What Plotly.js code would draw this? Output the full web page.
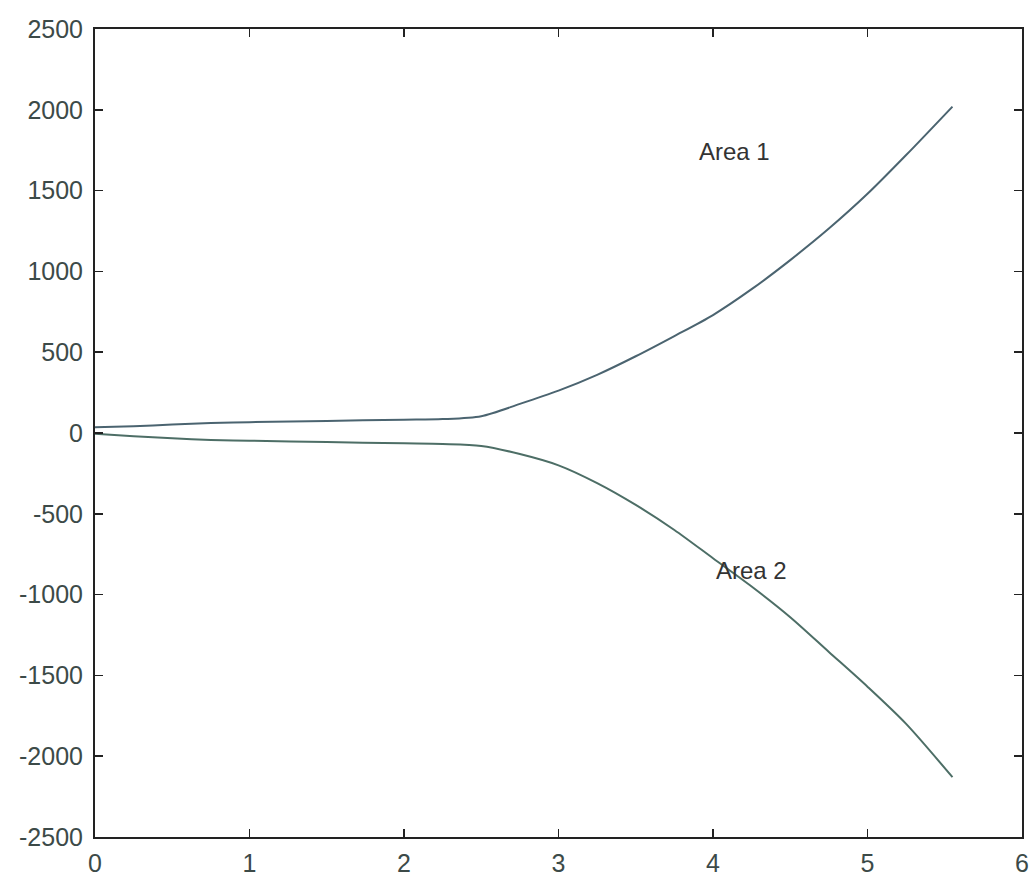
<!DOCTYPE html>
<html>
<head>
<meta charset="utf-8">
<script src="https://cdn.plot.ly/plotly-3.0.1.min.js"></script>
<style>html,body{margin:0;padding:0;background:#fff;}#chart{width:1033px;height:877px;}</style>
</head>
<body>
<div id="chart"></div>
<script>
const xValues = [0, 0.25, 0.5, 0.75, 1, 1.5, 2, 2.25, 2.5, 2.75, 3, 3.25, 3.5, 3.75, 4, 4.25, 4.5, 4.75, 5, 5.25, 5.55];
const area1 = [35, 42, 52, 62, 67, 75, 82, 86, 104, 180, 262, 360, 475, 600, 730, 890, 1070, 1265, 1480, 1720, 2020];
const area2 = [-5, -20, -33, -43, -48, -56, -64, -68, -80, -130, -200, -310, -445, -600, -775, -950, -1140, -1355, -1570, -1800, -2130];
const labels = ["Area 1", "Area 2"];
const labelX = [4.14, 4.25];
const labelY = [1739, -848];
const xTicks = [0, 1, 2, 3, 4, 5, 6];
const yTicks = [2500, 2000, 1500, 1000, 500, 0, -500, -1000, -1500, -2000, -2500];

const traces = [
  {x: xValues, y: area1, mode: 'lines', line: {color: '#4b6470', width: 2, shape: 'spline', smoothing: 0.8}, name: labels[0], hoverinfo: 'skip'},
  {x: xValues, y: area2, mode: 'lines', line: {color: '#4d6e66', width: 2, shape: 'spline', smoothing: 0.8}, name: labels[1], hoverinfo: 'skip'}
];

const tickFont = {family: 'Liberation Sans, Arial, sans-serif', size: 25, color: '#3c4a48'};
const layout = {
  width: 1033, height: 877,
  margin: {l: 95, r: 11, t: 29, b: 40, pad: 0},
  paper_bgcolor: '#ffffff', plot_bgcolor: '#ffffff',
  showlegend: false,
  xaxis: {
    range: [0, 6], tickvals: xTicks, ticktext: xTicks.map(String),
    ticks: 'inside', ticklen: 8, tickwidth: 1.5, tickcolor: '#222',
    showline: true, linecolor: '#222', linewidth: 2, mirror: 'ticks',
    showgrid: false, zeroline: false, tickfont: tickFont, fixedrange: true,
    ticklabelstandoff: 3
  },
  yaxis: {
    range: [-2500, 2500], tickvals: yTicks, ticktext: yTicks.map(String),
    ticks: 'inside', ticklen: 8, tickwidth: 1.5, tickcolor: '#222',
    showline: true, linecolor: '#222', linewidth: 2, mirror: 'ticks',
    showgrid: false, zeroline: false, tickfont: tickFont, fixedrange: true,
    ticklabelstandoff: 5
  },
  annotations: labels.map((t, i) => ({
    x: labelX[i], y: labelY[i], text: t, showarrow: false,
    font: {family: 'Liberation Sans, Arial, sans-serif', size: 24, color: '#333'}
  }))
};
Plotly.newPlot('chart', traces, layout, {displayModeBar: false, staticPlot: true});
</script>
</body>
</html>
